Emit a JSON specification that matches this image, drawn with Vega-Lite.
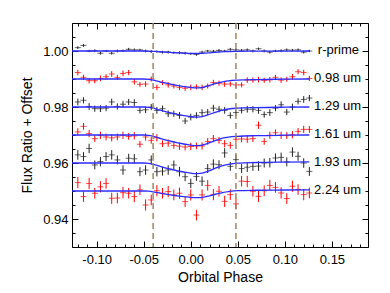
{
"$schema": "https://vega.github.io/schema/vega-lite/v6.json",
"width": 296, "height": 224,
"autosize": "none",
"padding": {"left": 72, "top": 23, "right": 22, "bottom": 46},
"config": {
 "view": {"stroke": "black", "strokeWidth": 1},
 "font": "Liberation Sans",
 "axis": {"labelFontSize": 13, "titleFontSize": 14, "titleFontWeight": "normal", "labelColor": "black", "titleColor": "black", "tickColor": "black", "domain": false, "grid": false}
},
"datasets": {
"pts": [
{"s":"r-prime","x":-0.12,"y":1.0012,"e":0.0005},{"s":"r-prime","x":-0.114,"y":1.002,"e":0.0005},{"s":"r-prime","x":-0.108,"y":1.0,"e":0.0004},{"s":"r-prime","x":-0.102,"y":1.0001,"e":0.0005},{"s":"r-prime","x":-0.096,"y":0.9992,"e":0.0005},{"s":"r-prime","x":-0.09,"y":1.0,"e":0.0004},{"s":"r-prime","x":-0.084,"y":0.9992,"e":0.0005},{"s":"r-prime","x":-0.078,"y":1.0,"e":0.0005},{"s":"r-prime","x":-0.072,"y":1.0001,"e":0.0004},{"s":"r-prime","x":-0.066,"y":1.0006,"e":0.0005},{"s":"r-prime","x":-0.06,"y":1.0004,"e":0.0005},{"s":"r-prime","x":-0.054,"y":1.0004,"e":0.0004},{"s":"r-prime","x":-0.048,"y":1.0,"e":0.0005},{"s":"r-prime","x":-0.042,"y":0.9998,"e":0.0005},{"s":"r-prime","x":-0.036,"y":0.9998,"e":0.0004},{"s":"r-prime","x":-0.03,"y":0.9996,"e":0.0005},{"s":"r-prime","x":-0.024,"y":0.9996,"e":0.0005},{"s":"r-prime","x":-0.018,"y":0.9994,"e":0.0004},{"s":"r-prime","x":-0.012,"y":0.9994,"e":0.0005},{"s":"r-prime","x":-0.006,"y":0.9992,"e":0.0005},{"s":"r-prime","x":0.0,"y":0.999,"e":0.0004},{"s":"r-prime","x":0.006,"y":0.9988,"e":0.0005},{"s":"r-prime","x":0.012,"y":0.9996,"e":0.0005},{"s":"r-prime","x":0.018,"y":1.0,"e":0.0004},{"s":"r-prime","x":0.024,"y":0.9999,"e":0.0005},{"s":"r-prime","x":0.03,"y":1.0002,"e":0.0005},{"s":"r-prime","x":0.036,"y":1.0,"e":0.0004},{"s":"r-prime","x":0.042,"y":1.0006,"e":0.0005},{"s":"r-prime","x":0.048,"y":1.0004,"e":0.0005},{"s":"r-prime","x":0.054,"y":1.0003,"e":0.0004},{"s":"r-prime","x":0.06,"y":1.0004,"e":0.0005},{"s":"r-prime","x":0.066,"y":1.0,"e":0.0005},{"s":"r-prime","x":0.072,"y":1.0008,"e":0.0004},{"s":"r-prime","x":0.078,"y":1.0,"e":0.0005},{"s":"r-prime","x":0.084,"y":0.9996,"e":0.0005},{"s":"r-prime","x":0.09,"y":1.0,"e":0.0004},{"s":"r-prime","x":0.096,"y":1.0001,"e":0.0005},{"s":"r-prime","x":0.102,"y":1.0004,"e":0.0005},{"s":"r-prime","x":0.108,"y":1.0003,"e":0.0004},{"s":"r-prime","x":0.114,"y":1.0004,"e":0.0005},{"s":"r-prime","x":0.12,"y":0.9996,"e":0.0005},{"s":"r-prime","x":0.126,"y":1.0,"e":0.0004},
{"s":"0.98 um","x":-0.12,"y":0.9923,"e":0.001},{"s":"0.98 um","x":-0.114,"y":0.9906,"e":0.0009},{"s":"0.98 um","x":-0.108,"y":0.9894,"e":0.001},{"s":"0.98 um","x":-0.102,"y":0.9894,"e":0.0009},{"s":"0.98 um","x":-0.096,"y":0.9902,"e":0.001},{"s":"0.98 um","x":-0.09,"y":0.9908,"e":0.0009},{"s":"0.98 um","x":-0.084,"y":0.9918,"e":0.001},{"s":"0.98 um","x":-0.078,"y":0.9906,"e":0.0009},{"s":"0.98 um","x":-0.072,"y":0.992,"e":0.001},{"s":"0.98 um","x":-0.066,"y":0.9923,"e":0.0009},{"s":"0.98 um","x":-0.06,"y":0.989,"e":0.001},{"s":"0.98 um","x":-0.054,"y":0.9881,"e":0.0009},{"s":"0.98 um","x":-0.048,"y":0.9882,"e":0.001},{"s":"0.98 um","x":-0.042,"y":0.99,"e":0.0009},{"s":"0.98 um","x":-0.036,"y":0.987,"e":0.001},{"s":"0.98 um","x":-0.03,"y":0.9887,"e":0.0009},{"s":"0.98 um","x":-0.024,"y":0.9879,"e":0.001},{"s":"0.98 um","x":-0.018,"y":0.9875,"e":0.0009},{"s":"0.98 um","x":-0.012,"y":0.987,"e":0.001},{"s":"0.98 um","x":-0.006,"y":0.9867,"e":0.0009},{"s":"0.98 um","x":0.0,"y":0.987,"e":0.001},{"s":"0.98 um","x":0.006,"y":0.9872,"e":0.0009},{"s":"0.98 um","x":0.012,"y":0.987,"e":0.001},{"s":"0.98 um","x":0.018,"y":0.9875,"e":0.0009},{"s":"0.98 um","x":0.024,"y":0.9887,"e":0.001},{"s":"0.98 um","x":0.03,"y":0.9885,"e":0.0009},{"s":"0.98 um","x":0.036,"y":0.9882,"e":0.001},{"s":"0.98 um","x":0.042,"y":0.9882,"e":0.0009},{"s":"0.98 um","x":0.048,"y":0.9879,"e":0.001},{"s":"0.98 um","x":0.054,"y":0.9879,"e":0.0009},{"s":"0.98 um","x":0.06,"y":0.9896,"e":0.001},{"s":"0.98 um","x":0.066,"y":0.9896,"e":0.0009},{"s":"0.98 um","x":0.072,"y":0.9898,"e":0.001},{"s":"0.98 um","x":0.078,"y":0.9895,"e":0.0009},{"s":"0.98 um","x":0.084,"y":0.9897,"e":0.001},{"s":"0.98 um","x":0.09,"y":0.9906,"e":0.0009},{"s":"0.98 um","x":0.096,"y":0.9896,"e":0.001},{"s":"0.98 um","x":0.102,"y":0.9899,"e":0.0009},{"s":"0.98 um","x":0.108,"y":0.9908,"e":0.001},{"s":"0.98 um","x":0.114,"y":0.9926,"e":0.0009},{"s":"0.98 um","x":0.12,"y":0.9923,"e":0.001},{"s":"0.98 um","x":0.126,"y":0.9902,"e":0.0009},
{"s":"1.29 um","x":-0.12,"y":0.9818,"e":0.0012},{"s":"1.29 um","x":-0.114,"y":0.9824,"e":0.0011},{"s":"1.29 um","x":-0.108,"y":0.9802,"e":0.0012},{"s":"1.29 um","x":-0.102,"y":0.9794,"e":0.0011},{"s":"1.29 um","x":-0.096,"y":0.9794,"e":0.0012},{"s":"1.29 um","x":-0.09,"y":0.9796,"e":0.0011},{"s":"1.29 um","x":-0.084,"y":0.9818,"e":0.0012},{"s":"1.29 um","x":-0.078,"y":0.9802,"e":0.0011},{"s":"1.29 um","x":-0.072,"y":0.981,"e":0.0012},{"s":"1.29 um","x":-0.066,"y":0.9818,"e":0.0011},{"s":"1.29 um","x":-0.06,"y":0.9816,"e":0.0012},{"s":"1.29 um","x":-0.054,"y":0.9788,"e":0.0011},{"s":"1.29 um","x":-0.048,"y":0.979,"e":0.0012},{"s":"1.29 um","x":-0.042,"y":0.98,"e":0.0011},{"s":"1.29 um","x":-0.036,"y":0.9788,"e":0.0012},{"s":"1.29 um","x":-0.03,"y":0.9794,"e":0.0011},{"s":"1.29 um","x":-0.024,"y":0.9776,"e":0.0012},{"s":"1.29 um","x":-0.018,"y":0.9776,"e":0.0011},{"s":"1.29 um","x":-0.012,"y":0.977,"e":0.0012},{"s":"1.29 um","x":-0.006,"y":0.975,"e":0.0011},{"s":"1.29 um","x":0.0,"y":0.9764,"e":0.0012},{"s":"1.29 um","x":0.006,"y":0.977,"e":0.0011},{"s":"1.29 um","x":0.012,"y":0.978,"e":0.0012},{"s":"1.29 um","x":0.018,"y":0.9782,"e":0.0011},{"s":"1.29 um","x":0.024,"y":0.9796,"e":0.0012},{"s":"1.29 um","x":0.03,"y":0.9792,"e":0.0011},{"s":"1.29 um","x":0.036,"y":0.9788,"e":0.0012},{"s":"1.29 um","x":0.042,"y":0.977,"e":0.0011},{"s":"1.29 um","x":0.048,"y":0.978,"e":0.0012},{"s":"1.29 um","x":0.054,"y":0.9788,"e":0.0011},{"s":"1.29 um","x":0.06,"y":0.9792,"e":0.0012},{"s":"1.29 um","x":0.066,"y":0.9792,"e":0.0011},{"s":"1.29 um","x":0.072,"y":0.9788,"e":0.0012},{"s":"1.29 um","x":0.078,"y":0.9773,"e":0.0011},{"s":"1.29 um","x":0.084,"y":0.978,"e":0.0012},{"s":"1.29 um","x":0.09,"y":0.9796,"e":0.0011},{"s":"1.29 um","x":0.096,"y":0.9808,"e":0.0012},{"s":"1.29 um","x":0.102,"y":0.9782,"e":0.0011},{"s":"1.29 um","x":0.108,"y":0.98,"e":0.0012},{"s":"1.29 um","x":0.114,"y":0.982,"e":0.0011},{"s":"1.29 um","x":0.12,"y":0.9827,"e":0.0012},{"s":"1.29 um","x":0.126,"y":0.9832,"e":0.0011},
{"s":"1.61 um","x":-0.12,"y":0.9711,"e":0.0013},{"s":"1.61 um","x":-0.114,"y":0.9731,"e":0.0012},{"s":"1.61 um","x":-0.108,"y":0.9705,"e":0.0013},{"s":"1.61 um","x":-0.102,"y":0.9687,"e":0.0012},{"s":"1.61 um","x":-0.096,"y":0.9699,"e":0.0013},{"s":"1.61 um","x":-0.09,"y":0.9693,"e":0.0012},{"s":"1.61 um","x":-0.084,"y":0.969,"e":0.0013},{"s":"1.61 um","x":-0.078,"y":0.9693,"e":0.0012},{"s":"1.61 um","x":-0.072,"y":0.9699,"e":0.0013},{"s":"1.61 um","x":-0.066,"y":0.9695,"e":0.0012},{"s":"1.61 um","x":-0.06,"y":0.9697,"e":0.0013},{"s":"1.61 um","x":-0.054,"y":0.9667,"e":0.0012},{"s":"1.61 um","x":-0.048,"y":0.9693,"e":0.0013},{"s":"1.61 um","x":-0.042,"y":0.9681,"e":0.0012},{"s":"1.61 um","x":-0.036,"y":0.969,"e":0.0013},{"s":"1.61 um","x":-0.03,"y":0.9669,"e":0.0012},{"s":"1.61 um","x":-0.024,"y":0.9671,"e":0.0013},{"s":"1.61 um","x":-0.018,"y":0.9663,"e":0.0012},{"s":"1.61 um","x":-0.012,"y":0.966,"e":0.0013},{"s":"1.61 um","x":-0.006,"y":0.9657,"e":0.0012},{"s":"1.61 um","x":0.0,"y":0.9659,"e":0.0013},{"s":"1.61 um","x":0.006,"y":0.9661,"e":0.0012},{"s":"1.61 um","x":0.012,"y":0.9661,"e":0.0013},{"s":"1.61 um","x":0.018,"y":0.9677,"e":0.0012},{"s":"1.61 um","x":0.024,"y":0.9687,"e":0.0013},{"s":"1.61 um","x":0.03,"y":0.9681,"e":0.0012},{"s":"1.61 um","x":0.036,"y":0.9669,"e":0.0013},{"s":"1.61 um","x":0.042,"y":0.9663,"e":0.0012},{"s":"1.61 um","x":0.048,"y":0.9685,"e":0.0013},{"s":"1.61 um","x":0.054,"y":0.9686,"e":0.0012},{"s":"1.61 um","x":0.06,"y":0.9685,"e":0.0013},{"s":"1.61 um","x":0.066,"y":0.9687,"e":0.0012},{"s":"1.61 um","x":0.072,"y":0.9735,"e":0.0013},{"s":"1.61 um","x":0.078,"y":0.9677,"e":0.0012},{"s":"1.61 um","x":0.084,"y":0.9699,"e":0.0013},{"s":"1.61 um","x":0.09,"y":0.9708,"e":0.0012},{"s":"1.61 um","x":0.096,"y":0.9699,"e":0.0013},{"s":"1.61 um","x":0.102,"y":0.9698,"e":0.0012},{"s":"1.61 um","x":0.108,"y":0.9701,"e":0.0013},{"s":"1.61 um","x":0.114,"y":0.9713,"e":0.0012},{"s":"1.61 um","x":0.12,"y":0.972,"e":0.0013},{"s":"1.61 um","x":0.126,"y":0.972,"e":0.0012},
{"s":"1.93 um","x":-0.12,"y":0.9629,"e":0.0017},{"s":"1.93 um","x":-0.114,"y":0.9623,"e":0.0016},{"s":"1.93 um","x":-0.108,"y":0.9652,"e":0.0017},{"s":"1.93 um","x":-0.102,"y":0.9593,"e":0.0016},{"s":"1.93 um","x":-0.096,"y":0.9605,"e":0.0017},{"s":"1.93 um","x":-0.09,"y":0.9623,"e":0.0016},{"s":"1.93 um","x":-0.084,"y":0.9629,"e":0.0017},{"s":"1.93 um","x":-0.078,"y":0.9611,"e":0.0016},{"s":"1.93 um","x":-0.072,"y":0.9575,"e":0.0017},{"s":"1.93 um","x":-0.066,"y":0.9617,"e":0.0016},{"s":"1.93 um","x":-0.06,"y":0.9615,"e":0.0017},{"s":"1.93 um","x":-0.054,"y":0.9569,"e":0.0016},{"s":"1.93 um","x":-0.048,"y":0.9575,"e":0.0017},{"s":"1.93 um","x":-0.042,"y":0.9611,"e":0.0016},{"s":"1.93 um","x":-0.036,"y":0.9569,"e":0.0017},{"s":"1.93 um","x":-0.03,"y":0.9571,"e":0.0016},{"s":"1.93 um","x":-0.024,"y":0.9575,"e":0.0017},{"s":"1.93 um","x":-0.018,"y":0.9593,"e":0.0016},{"s":"1.93 um","x":-0.012,"y":0.9569,"e":0.0017},{"s":"1.93 um","x":-0.006,"y":0.9551,"e":0.0016},{"s":"1.93 um","x":0.0,"y":0.9527,"e":0.0017},{"s":"1.93 um","x":0.006,"y":0.9552,"e":0.0016},{"s":"1.93 um","x":0.012,"y":0.9535,"e":0.0017},{"s":"1.93 um","x":0.018,"y":0.958,"e":0.0016},{"s":"1.93 um","x":0.024,"y":0.9596,"e":0.0017},{"s":"1.93 um","x":0.03,"y":0.9594,"e":0.0016},{"s":"1.93 um","x":0.036,"y":0.9636,"e":0.0017},{"s":"1.93 um","x":0.042,"y":0.9588,"e":0.0016},{"s":"1.93 um","x":0.048,"y":0.9612,"e":0.0017},{"s":"1.93 um","x":0.054,"y":0.958,"e":0.0016},{"s":"1.93 um","x":0.06,"y":0.9585,"e":0.0017},{"s":"1.93 um","x":0.066,"y":0.9588,"e":0.0016},{"s":"1.93 um","x":0.072,"y":0.9589,"e":0.0017},{"s":"1.93 um","x":0.078,"y":0.96,"e":0.0016},{"s":"1.93 um","x":0.084,"y":0.9601,"e":0.0017},{"s":"1.93 um","x":0.09,"y":0.9618,"e":0.0016},{"s":"1.93 um","x":0.096,"y":0.962,"e":0.0017},{"s":"1.93 um","x":0.102,"y":0.9604,"e":0.0016},{"s":"1.93 um","x":0.108,"y":0.9639,"e":0.0017},{"s":"1.93 um","x":0.114,"y":0.9624,"e":0.0016},{"s":"1.93 um","x":0.12,"y":0.96,"e":0.0017},{"s":"1.93 um","x":0.126,"y":0.957,"e":0.0016},
{"s":"2.24 um","x":-0.12,"y":0.953,"e":0.002},{"s":"2.24 um","x":-0.114,"y":0.948,"e":0.0019},{"s":"2.24 um","x":-0.108,"y":0.9527,"e":0.002},{"s":"2.24 um","x":-0.102,"y":0.9492,"e":0.0019},{"s":"2.24 um","x":-0.096,"y":0.9515,"e":0.002},{"s":"2.24 um","x":-0.09,"y":0.9527,"e":0.0019},{"s":"2.24 um","x":-0.084,"y":0.9474,"e":0.002},{"s":"2.24 um","x":-0.078,"y":0.9475,"e":0.0019},{"s":"2.24 um","x":-0.072,"y":0.9494,"e":0.002},{"s":"2.24 um","x":-0.066,"y":0.9492,"e":0.0019},{"s":"2.24 um","x":-0.06,"y":0.948,"e":0.002},{"s":"2.24 um","x":-0.054,"y":0.9504,"e":0.0019},{"s":"2.24 um","x":-0.048,"y":0.945,"e":0.002},{"s":"2.24 um","x":-0.042,"y":0.9468,"e":0.0019},{"s":"2.24 um","x":-0.036,"y":0.9501,"e":0.002},{"s":"2.24 um","x":-0.03,"y":0.9492,"e":0.0019},{"s":"2.24 um","x":-0.024,"y":0.9498,"e":0.002},{"s":"2.24 um","x":-0.018,"y":0.9486,"e":0.0019},{"s":"2.24 um","x":-0.012,"y":0.9492,"e":0.002},{"s":"2.24 um","x":-0.006,"y":0.9462,"e":0.0019},{"s":"2.24 um","x":0.0,"y":0.9486,"e":0.002},{"s":"2.24 um","x":0.006,"y":0.9414,"e":0.0019},{"s":"2.24 um","x":0.012,"y":0.9486,"e":0.002},{"s":"2.24 um","x":0.018,"y":0.952,"e":0.0019},{"s":"2.24 um","x":0.024,"y":0.9487,"e":0.002},{"s":"2.24 um","x":0.03,"y":0.9499,"e":0.0019},{"s":"2.24 um","x":0.036,"y":0.9463,"e":0.002},{"s":"2.24 um","x":0.042,"y":0.9487,"e":0.0019},{"s":"2.24 um","x":0.048,"y":0.9454,"e":0.002},{"s":"2.24 um","x":0.054,"y":0.9535,"e":0.0019},{"s":"2.24 um","x":0.06,"y":0.9534,"e":0.002},{"s":"2.24 um","x":0.066,"y":0.9499,"e":0.0019},{"s":"2.24 um","x":0.072,"y":0.9481,"e":0.002},{"s":"2.24 um","x":0.078,"y":0.9501,"e":0.0019},{"s":"2.24 um","x":0.084,"y":0.952,"e":0.002},{"s":"2.24 um","x":0.09,"y":0.9513,"e":0.0019},{"s":"2.24 um","x":0.096,"y":0.9493,"e":0.002},{"s":"2.24 um","x":0.102,"y":0.9473,"e":0.0019},{"s":"2.24 um","x":0.108,"y":0.9517,"e":0.002},{"s":"2.24 um","x":0.114,"y":0.9505,"e":0.0019},{"s":"2.24 um","x":0.12,"y":0.9487,"e":0.002},{"s":"2.24 um","x":0.126,"y":0.9493,"e":0.0019}
],
"model": [
{"s":"r-prime","x":-0.1262,"y":1.0},{"s":"r-prime","x":-0.05,"y":1.0},{"s":"r-prime","x":-0.045,"y":0.99997},{"s":"r-prime","x":-0.04,"y":0.99989},{"s":"r-prime","x":-0.035,"y":0.99978},{"s":"r-prime","x":-0.03,"y":0.99966},{"s":"r-prime","x":-0.025,"y":0.99955},{"s":"r-prime","x":-0.02,"y":0.99945},{"s":"r-prime","x":-0.015,"y":0.99936},{"s":"r-prime","x":-0.01,"y":0.99928},{"s":"r-prime","x":-0.005,"y":0.99921},{"s":"r-prime","x":0.0,"y":0.99915},{"s":"r-prime","x":0.005,"y":0.9991},{"s":"r-prime","x":0.01,"y":0.99912},{"s":"r-prime","x":0.015,"y":0.99921},{"s":"r-prime","x":0.02,"y":0.99935},{"s":"r-prime","x":0.025,"y":0.9995},{"s":"r-prime","x":0.03,"y":0.99964},{"s":"r-prime","x":0.035,"y":0.99975},{"s":"r-prime","x":0.04,"y":0.99982},{"s":"r-prime","x":0.05,"y":0.99989},{"s":"r-prime","x":0.07,"y":0.99995},{"s":"r-prime","x":0.1,"y":0.99998},{"s":"r-prime","x":0.126,"y":1.0},
{"s":"0.98 um","x":-0.1262,"y":0.99},{"s":"0.98 um","x":-0.05,"y":0.99},{"s":"0.98 um","x":-0.045,"y":0.9899},{"s":"0.98 um","x":-0.04,"y":0.98962},{"s":"0.98 um","x":-0.035,"y":0.9892},{"s":"0.98 um","x":-0.03,"y":0.98878},{"s":"0.98 um","x":-0.025,"y":0.9884},{"s":"0.98 um","x":-0.02,"y":0.98805},{"s":"0.98 um","x":-0.015,"y":0.98773},{"s":"0.98 um","x":-0.01,"y":0.98744},{"s":"0.98 um","x":-0.005,"y":0.98718},{"s":"0.98 um","x":0.0,"y":0.98696},{"s":"0.98 um","x":0.005,"y":0.9868},{"s":"0.98 um","x":0.01,"y":0.98686},{"s":"0.98 um","x":0.015,"y":0.98718},{"s":"0.98 um","x":0.02,"y":0.9877},{"s":"0.98 um","x":0.025,"y":0.98824},{"s":"0.98 um","x":0.03,"y":0.98872},{"s":"0.98 um","x":0.035,"y":0.9891},{"s":"0.98 um","x":0.04,"y":0.98936},{"s":"0.98 um","x":0.05,"y":0.98962},{"s":"0.98 um","x":0.07,"y":0.98981},{"s":"0.98 um","x":0.1,"y":0.98994},{"s":"0.98 um","x":0.126,"y":0.99},
{"s":"1.29 um","x":-0.1262,"y":0.98},{"s":"1.29 um","x":-0.05,"y":0.98},{"s":"1.29 um","x":-0.045,"y":0.97989},{"s":"1.29 um","x":-0.04,"y":0.97957},{"s":"1.29 um","x":-0.035,"y":0.9791},{"s":"1.29 um","x":-0.03,"y":0.97863},{"s":"1.29 um","x":-0.025,"y":0.9782},{"s":"1.29 um","x":-0.02,"y":0.9778},{"s":"1.29 um","x":-0.015,"y":0.97744},{"s":"1.29 um","x":-0.01,"y":0.97712},{"s":"1.29 um","x":-0.005,"y":0.97683},{"s":"1.29 um","x":0.0,"y":0.97658},{"s":"1.29 um","x":0.005,"y":0.9764},{"s":"1.29 um","x":0.01,"y":0.97647},{"s":"1.29 um","x":0.015,"y":0.97683},{"s":"1.29 um","x":0.02,"y":0.97741},{"s":"1.29 um","x":0.025,"y":0.97802},{"s":"1.29 um","x":0.03,"y":0.97856},{"s":"1.29 um","x":0.035,"y":0.97899},{"s":"1.29 um","x":0.04,"y":0.97928},{"s":"1.29 um","x":0.05,"y":0.97957},{"s":"1.29 um","x":0.07,"y":0.97978},{"s":"1.29 um","x":0.1,"y":0.97993},{"s":"1.29 um","x":0.126,"y":0.98},
{"s":"1.61 um","x":-0.1262,"y":0.97},{"s":"1.61 um","x":-0.05,"y":0.97},{"s":"1.61 um","x":-0.045,"y":0.96989},{"s":"1.61 um","x":-0.04,"y":0.96954},{"s":"1.61 um","x":-0.035,"y":0.96905},{"s":"1.61 um","x":-0.03,"y":0.96856},{"s":"1.61 um","x":-0.025,"y":0.9681},{"s":"1.61 um","x":-0.02,"y":0.96768},{"s":"1.61 um","x":-0.015,"y":0.9673},{"s":"1.61 um","x":-0.01,"y":0.96696},{"s":"1.61 um","x":-0.005,"y":0.96666},{"s":"1.61 um","x":0.0,"y":0.96639},{"s":"1.61 um","x":0.005,"y":0.9662},{"s":"1.61 um","x":0.01,"y":0.96628},{"s":"1.61 um","x":0.015,"y":0.96666},{"s":"1.61 um","x":0.02,"y":0.96726},{"s":"1.61 um","x":0.025,"y":0.96791},{"s":"1.61 um","x":0.03,"y":0.96848},{"s":"1.61 um","x":0.035,"y":0.96894},{"s":"1.61 um","x":0.04,"y":0.96924},{"s":"1.61 um","x":0.05,"y":0.96954},{"s":"1.61 um","x":0.07,"y":0.96977},{"s":"1.61 um","x":0.1,"y":0.96992},{"s":"1.61 um","x":0.126,"y":0.97},
{"s":"1.93 um","x":-0.1262,"y":0.96},{"s":"1.93 um","x":-0.05,"y":0.96},{"s":"1.93 um","x":-0.045,"y":0.95989},{"s":"1.93 um","x":-0.04,"y":0.95954},{"s":"1.93 um","x":-0.035,"y":0.95905},{"s":"1.93 um","x":-0.03,"y":0.95856},{"s":"1.93 um","x":-0.025,"y":0.9581},{"s":"1.93 um","x":-0.02,"y":0.95768},{"s":"1.93 um","x":-0.015,"y":0.9573},{"s":"1.93 um","x":-0.01,"y":0.95696},{"s":"1.93 um","x":-0.005,"y":0.95666},{"s":"1.93 um","x":0.0,"y":0.95639},{"s":"1.93 um","x":0.005,"y":0.9562},{"s":"1.93 um","x":0.01,"y":0.95628},{"s":"1.93 um","x":0.015,"y":0.95666},{"s":"1.93 um","x":0.02,"y":0.95726},{"s":"1.93 um","x":0.025,"y":0.95798},{"s":"1.93 um","x":0.03,"y":0.95861},{"s":"1.93 um","x":0.035,"y":0.95914},{"s":"1.93 um","x":0.04,"y":0.95951},{"s":"1.93 um","x":0.05,"y":0.95994},{"s":"1.93 um","x":0.07,"y":0.96017},{"s":"1.93 um","x":0.1,"y":0.96032},{"s":"1.93 um","x":0.126,"y":0.9604},
{"s":"2.24 um","x":-0.1262,"y":0.95},{"s":"2.24 um","x":-0.05,"y":0.95},{"s":"2.24 um","x":-0.045,"y":0.94993},{"s":"2.24 um","x":-0.04,"y":0.94971},{"s":"2.24 um","x":-0.035,"y":0.9494},{"s":"2.24 um","x":-0.03,"y":0.94909},{"s":"2.24 um","x":-0.025,"y":0.9488},{"s":"2.24 um","x":-0.02,"y":0.94854},{"s":"2.24 um","x":-0.015,"y":0.9483},{"s":"2.24 um","x":-0.01,"y":0.94808},{"s":"2.24 um","x":-0.005,"y":0.94789},{"s":"2.24 um","x":0.0,"y":0.94772},{"s":"2.24 um","x":0.005,"y":0.9476},{"s":"2.24 um","x":0.01,"y":0.94765},{"s":"2.24 um","x":0.015,"y":0.94789},{"s":"2.24 um","x":0.02,"y":0.94827},{"s":"2.24 um","x":0.025,"y":0.94875},{"s":"2.24 um","x":0.03,"y":0.94917},{"s":"2.24 um","x":0.035,"y":0.94953},{"s":"2.24 um","x":0.04,"y":0.94979},{"s":"2.24 um","x":0.05,"y":0.95011},{"s":"2.24 um","x":0.07,"y":0.95026},{"s":"2.24 um","x":0.1,"y":0.95035},{"s":"2.24 um","x":0.126,"y":0.9504}
],
"labels": [
{"x":0.135,"y":1.0,"t":"r-prime"},{"x":0.131,"y":0.99,"t":"0.98 um"},{"x":0.131,"y":0.98,"t":"1.29 um"},{"x":0.131,"y":0.97,"t":"1.61 um"},{"x":0.131,"y":0.96,"t":"1.93 um"},{"x":0.131,"y":0.95,"t":"2.24 um"}
],
"dash": [{"x":-0.0400},{"x":0.0480}]
},
"layer": [
{
 "data": {"name": "pts"},
 "mark": {"type": "errorbar", "thickness": 1},
 "encoding": {
  "x": {"field": "x", "type": "quantitative", "scale": {"domain": [-0.1262, 0.1883], "nice": false, "zero": false},
   "axis": {"orient": "bottom", "title": "Orbital Phase", "values": [-0.12,-0.11,-0.1,-0.09,-0.08,-0.07,-0.06,-0.05,-0.04,-0.03,-0.02,-0.01,0,0.01,0.02,0.03,0.04,0.05,0.06,0.07,0.08,0.09,0.1,0.11,0.12,0.13,0.14,0.15,0.16,0.17,0.18],
    "labelExpr": "abs(round(datum.value*100)) % 5 == 0 ? (datum.value < -0.001 ? '-' : '') + format(abs(datum.value), '.2f') : ''",
    "tickSize": {"condition": {"test": "abs(round(datum.value*100)) % 5 == 0", "value": -6}, "value": -3},
    "labelPadding": 12, "titlePadding": 4, "labelFlush": false}},
  "y": {"field": "y", "type": "quantitative", "scale": {"domain": [0.93, 1.01], "nice": false, "zero": false},
   "axis": {"orient": "left", "title": "Flux Ratio + Offset", "values": [0.93,0.935,0.94,0.945,0.95,0.955,0.96,0.965,0.97,0.975,0.98,0.985,0.99,0.995,1.0,1.005,1.01],
    "labelExpr": "abs(round(datum.value*1000)) % 20 == 0 ? format(datum.value, '.2f') : ''",
    "tickSize": {"condition": {"test": "abs(round(datum.value*1000)) % 20 == 0", "value": -6}, "value": -3},
    "labelPadding": 10, "titlePadding": 8, "labelFlush": false}},
  "yError": {"field": "e"},
  "color": {"field": "s", "type": "nominal", "scale": {"domain": ["r-prime","0.98 um","1.29 um","1.61 um","1.93 um","2.24 um"], "range": ["#222222","#ff0000","#222222","#ff0000","#222222","#ff0000"]}, "legend": null}
 }
},
{
 "data": {"name": "pts"},
 "mark": {"type": "tick", "orient": "horizontal", "size": 6, "thickness": 1},
 "encoding": {
  "x": {"field": "x", "type": "quantitative", "axis": null},
  "y": {"field": "y", "type": "quantitative", "axis": null},
  "color": {"field": "s", "type": "nominal", "legend": null}
 }
},
{
 "data": {"name": "model"},
 "mark": {"type": "line", "color": "#2b2bff", "strokeWidth": 1.3, "interpolate": "monotone"},
 "encoding": {
  "x": {"field": "x", "type": "quantitative", "axis": null},
  "y": {"field": "y", "type": "quantitative", "axis": null},
  "detail": {"field": "s", "type": "nominal"}
 }
},
{
 "data": {"name": "dash"},
 "mark": {"type": "rule", "color": "#a0855f", "strokeWidth": 1.5, "strokeDash": [6, 4]},
 "encoding": {
  "x": {"field": "x", "type": "quantitative", "axis": null}
 }
},
{
 "data": {"name": "labels"},
 "mark": {"type": "text", "align": "left", "baseline": "middle", "fontSize": 13, "dy": -1.5, "color": "black"},
 "encoding": {
  "x": {"field": "x", "type": "quantitative",
   "axis": {"orient": "top", "title": null, "labels": false, "values": [-0.12,-0.11,-0.1,-0.09,-0.08,-0.07,-0.06,-0.05,-0.04,-0.03,-0.02,-0.01,0,0.01,0.02,0.03,0.04,0.05,0.06,0.07,0.08,0.09,0.1,0.11,0.12,0.13,0.14,0.15,0.16,0.17,0.18],
    "tickSize": {"condition": {"test": "abs(round(datum.value*100)) % 5 == 0", "value": -6}, "value": -3}}},
  "y": {"field": "y", "type": "quantitative",
   "axis": {"orient": "right", "title": null, "labels": false, "values": [0.93,0.935,0.94,0.945,0.95,0.955,0.96,0.965,0.97,0.975,0.98,0.985,0.99,0.995,1.0,1.005,1.01],
    "tickSize": {"condition": {"test": "abs(round(datum.value*1000)) % 20 == 0", "value": -6}, "value": -3}}},
  "text": {"field": "t"}
 }
}
],
"resolve": {"axis": {"x": "independent", "y": "independent"}}
}
